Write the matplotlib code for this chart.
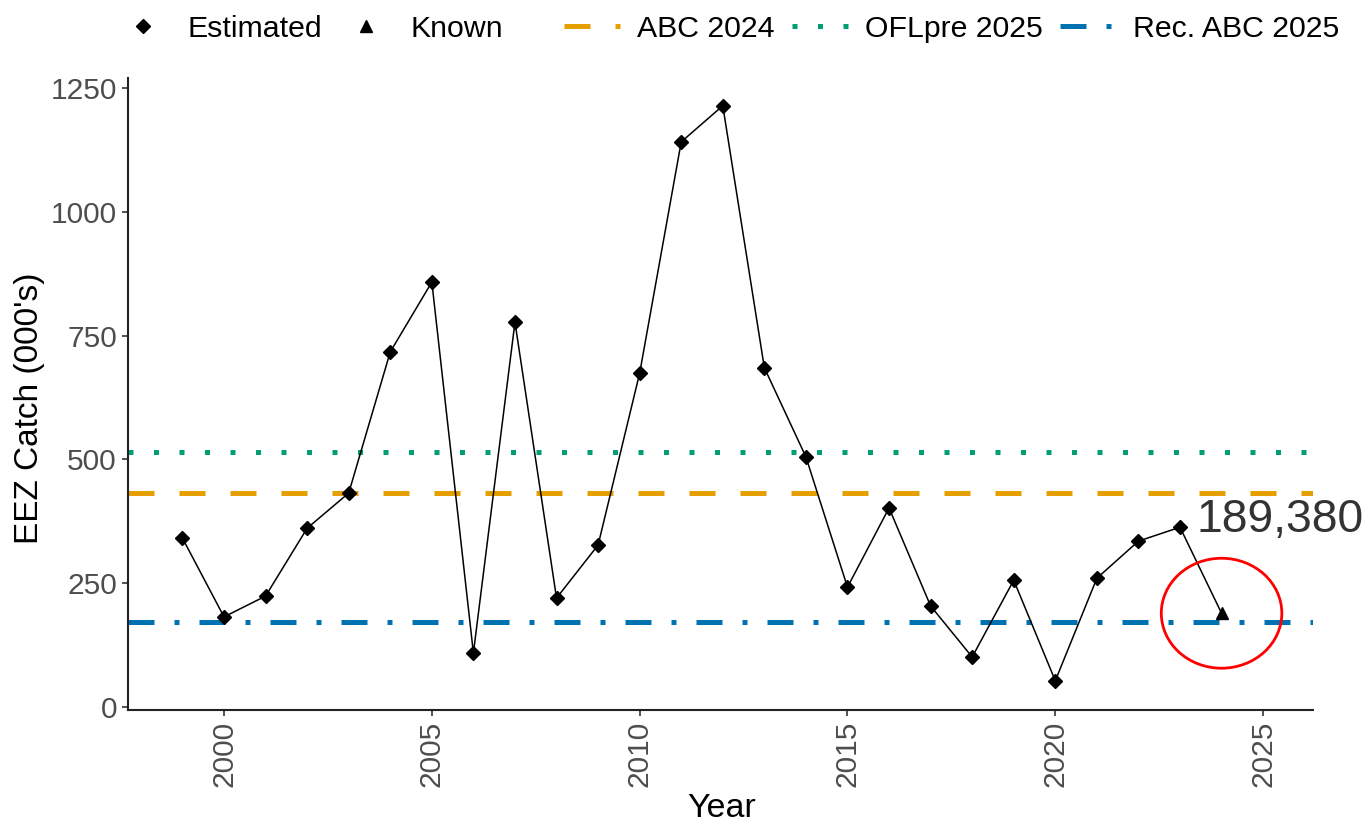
import matplotlib
matplotlib.use("Agg")
import matplotlib.pyplot as plt
from matplotlib.lines import Line2D
from matplotlib.patches import Ellipse
from matplotlib.transforms import Bbox, TransformedBbox

plt.rcParams['font.family'] = ['Liberation Sans', 'DejaVu Sans']

# ---- data ----
est_years = [1999, 2000, 2001, 2002, 2003, 2004, 2005, 2006, 2007, 2008, 2009,
             2010, 2011, 2012, 2013, 2014, 2015, 2016, 2017, 2018, 2019, 2020,
             2021, 2022, 2023]
est_catch = [341, 182, 224, 361, 432, 717, 858, 109, 777, 220, 327,
             674, 1141, 1214, 685, 505, 242, 402, 204, 101, 256, 53,
             260, 335, 363]
known_year = [2024]
known_catch = [189.38]
abc_2024 = 432
oflpre_2025 = 515
rec_abc_2025 = 172
annot_text = "189,380"
y_ticks = [0, 250, 500, 750, 1000, 1250]
x_ticks = [2000, 2005, 2010, 2015, 2020, 2025]

C_ORANGE = '#E69F00'
C_GREEN = '#009E73'
C_BLUE = '#0072B2'

W, H = 1370, 822
fig = plt.figure(figsize=(W / 100, H / 100), dpi=100)
ax = fig.add_axes([128 / W, 1 - 710 / H, (1313 - 128) / W, (710 - 78) / H])

lw_ref = 3.6
dash_abc = (0, (5.2, 5.0))
dot_ofl = (0, (1.0, 4.1))
dashdot_rec = (0, (5.2, 4.0, 1.0, 4.0))

ax.axhline(oflpre_2025, color=C_GREEN, lw=lw_ref, linestyle=dot_ofl, zorder=1)
ax.axhline(abc_2024, color=C_ORANGE, lw=lw_ref, linestyle=dash_abc, zorder=1)
ax.axhline(rec_abc_2025, color=C_BLUE, lw=lw_ref, linestyle=dashdot_rec, zorder=1)

all_years = est_years + known_year
all_catch = est_catch + known_catch
ax.plot(all_years, all_catch, color='black', lw=1.1, zorder=2)
ax.plot(est_years, est_catch, linestyle='none', marker='D', markersize=7.2,
        color='black', zorder=3)
ax.plot(known_year, known_catch, linestyle='none', marker='^', markersize=9,
        color='black', zorder=3)

ax.add_patch(Ellipse((known_year[0], known_catch[0]), 2.9, 222, fill=False,
                     edgecolor='#FF0000', lw=2.0, zorder=4))
ax.text(2023.4, 378, annot_text, fontsize=33.3, color='#333333',
        ha='left', va='center', zorder=5, clip_on=False)

ax.set_xlim(1997.69, 2026.2)
ax.set_ylim(-6, 1270)
ax.set_xticks(x_ticks)
ax.set_yticks(y_ticks)
ax.set_xticklabels([str(t) for t in x_ticks], rotation=90)
ax.tick_params(axis='both', labelsize=21.5, labelcolor='#4D4D4D',
               color='#333333', length=4.5, width=1.2, pad=3.5)
for s in ['top', 'right']:
    ax.spines[s].set_visible(False)
for s in ['left', 'bottom']:
    ax.spines[s].set_color('#222222')
    ax.spines[s].set_linewidth(1.5)

fig.text(30 / W, 1 - 408 / H, "EEZ Catch (000's)", rotation=90, fontsize=24,
         ha='center', va='center', color='black')
fig.text(722 / W, 1 - 808 / H, "Year", fontsize=24.5, ha='center', va='center',
         color='black')

# ---- legend (placed entry by entry) ----
entries = [
    (Line2D([], [], linestyle='none', marker='D', markersize=7.2, color='black'), 'Estimated', 115),
    (Line2D([], [], linestyle='none', marker='^', markersize=9, color='black'), 'Known', 338),
    (Line2D([], [], color=C_ORANGE, lw=lw_ref, linestyle=dash_abc), 'ABC 2024', 564),
    (Line2D([], [], color=C_GREEN, lw=lw_ref, linestyle=dot_ofl), 'OFLpre 2025', 792),
    (Line2D([], [], color=C_BLUE, lw=lw_ref, linestyle=dashdot_rec), 'Rec. ABC 2025', 1060),
]
clip = TransformedBbox(Bbox([[0, 0], [1338 / W, 1]]), fig.transFigure)
for h, lab, x0 in entries:
    leg = fig.legend(handles=[h], labels=[lab], loc='center left',
                     bbox_to_anchor=(x0 / W, 1 - 29 / H), frameon=False,
                     borderpad=0, borderaxespad=0, handlelength=1.85,
                     handletextpad=0.55, fontsize=21.8)
    for t in leg.get_texts():
        t.set_clip_box(clip)
        t.set_clip_on(True)

fig.savefig('out.png', dpi=100)
